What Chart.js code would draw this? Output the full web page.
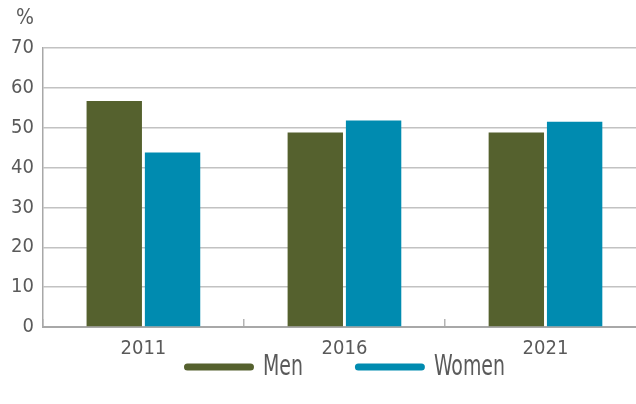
<!DOCTYPE html>
<html>
<head>
<meta charset="utf-8">
<script src="https://cdn.jsdelivr.net/npm/chart.js@4/dist/chart.umd.min.js"></script>
<style>
  html, body { margin: 0; padding: 0; background: #fff; }
  #wrap { width: 636px; height: 404px; overflow: hidden; }
</style>
</head>
<body>
<div id="wrap"><canvas id="c" width="646" height="404"></canvas></div>
<script>
// data
const years = ['2011', '2016', '2021'];
const men = [56.7, 48.8, 48.8];
const women = [43.8, 51.8, 51.5];
const yTicks = [0, 10, 20, 30, 40, 50, 60, 70];

const FONT = '"DejaVu Sans Condensed", "DejaVu Sans", sans-serif';
const GREY = '#5a5a5a';

// "%" unit label above the y axis
const unitLabel = {
  id: 'unitLabel',
  afterDraw(chart) {
    const { ctx, chartArea } = chart;
    ctx.save();
    ctx.font = '21px ' + FONT;
    ctx.fillStyle = GREY;
    ctx.textAlign = 'right';
    ctx.textBaseline = 'middle';
    ctx.fillText('%', chartArea.left - 9, chartArea.top - 29);
    ctx.restore();
  }
};

// legend row: thick rounded swatch + narrow text, centred under the plot
const lineLegend = {
  id: 'lineLegend',
  afterDraw(chart) {
    const { ctx, chartArea } = chart;
    const sets = chart.data.datasets;
    const sw = 70, gapText = 9, gapItem = 52, squeeze = 0.75;
    ctx.save();
    ctx.font = '28px ' + FONT;
    const widths = sets.map(ds => ctx.measureText(ds.label).width * squeeze);
    const total = widths.reduce((a, w) => a + sw + gapText + w, 0) + gapItem * (sets.length - 1);
    let x = (chartArea.left + chartArea.right) / 2 - total / 2;
    const y = chartArea.bottom + 40;
    sets.forEach((ds, i) => {
      ctx.strokeStyle = ds.backgroundColor;
      ctx.lineWidth = 7;
      ctx.lineCap = 'round';
      ctx.beginPath();
      ctx.moveTo(x + 3.5, y);
      ctx.lineTo(x + sw - 3.5, y);
      ctx.stroke();
      x += sw + gapText;
      ctx.save();
      ctx.translate(x, y);
      ctx.scale(squeeze, 1);
      ctx.fillStyle = GREY;
      ctx.textBaseline = 'middle';
      ctx.fillText(ds.label, 0, 1);
      ctx.restore();
      x += widths[i] + gapItem;
    });
    ctx.restore();
  }
};

new Chart(document.getElementById('c'), {
  type: 'bar',
  data: {
    labels: years,
    datasets: [
      { label: 'Men', data: men, backgroundColor: '#55612e', borderWidth: 0 },
      { label: 'Women', data: women, backgroundColor: '#008bb0', borderWidth: 0 }
    ]
  },
  options: {
    responsive: false,
    animation: false,
    categoryPercentage: 0.58,
    barPercentage: 0.95,
    layout: { padding: { top: 48, left: 2, right: 0, bottom: 25 } },
    plugins: {
      legend: { display: false },
      tooltip: { enabled: false }
    },
    scales: {
      x: {
        // short tick marks pointing up into the plot between the years
        grid: { display: true, drawOnChartArea: false, tickLength: -8, color: '#b4b4b4', lineWidth: 1.5 },
        border: { color: '#a8a8a8', width: 2 },
        ticks: { font: { family: FONT, size: 20 }, color: GREY, padding: 18 }
      },
      y: {
        min: 0, max: 70,
        afterBuildTicks(axis) { axis.ticks = yTicks.map(v => ({ value: v })); },
        grid: { color: '#c2c2c2', lineWidth: 1.5, drawTicks: false },
        border: { color: '#a8a8a8', width: 1.5 },
        ticks: { font: { family: FONT, size: 20 }, color: GREY, padding: 9 }
      }
    }
  },
  plugins: [unitLabel, lineLegend]
});
</script>
</body>
</html>
